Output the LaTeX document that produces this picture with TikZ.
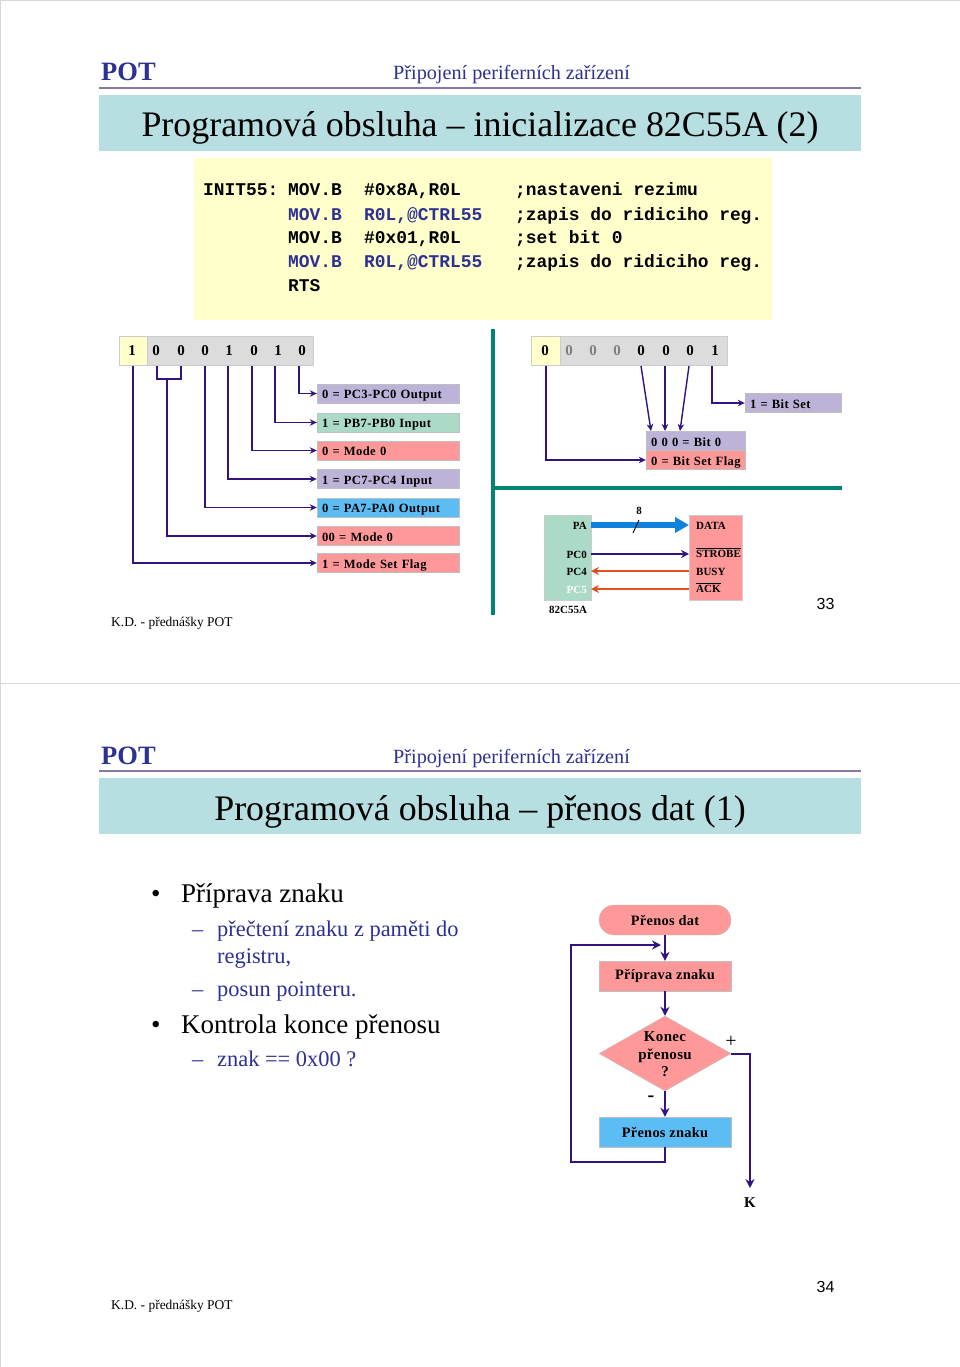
\documentclass[tikz,border=0pt]{standalone}
\usepackage{fontspec}
\setmainfont{Liberation Serif}
\setmonofont{Liberation Mono}
\newfontfamily\arialf{Liberation Sans}
\usetikzlibrary{arrows.meta,shapes.geometric,calc}
\definecolor{band}{HTML}{B7DEE1}
\definecolor{pale}{HTML}{FFFFCC}
\definecolor{cellgrey}{HTML}{DCDCDC}
\definecolor{lilac}{HTML}{BDB3D9}
\definecolor{mint}{HTML}{ABDAC6}
\definecolor{salmon}{HTML}{FF9999}
\definecolor{sky}{HTML}{5CBDF5}
\definecolor{teal2}{HTML}{008478}
\definecolor{wire}{HTML}{33137F}
\definecolor{fire}{HTML}{E0501E}
\definecolor{busb}{HTML}{0F82DC}
\definecolor{navy}{HTML}{2E3192}
\definecolor{rulec}{HTML}{8878A8}
\definecolor{frame}{HTML}{D8D8D8}
\newcommand{\ovl}[1]{\leavevmode\vbox{\hrule height 0.8pt\kern 1.6pt\hbox{#1}}}
\tikzset{
  txt/.style={inner sep=0pt,anchor=base west},
  lab/.style={draw=gray!50,line width=.4pt,fill=#1,minimum width=142pt,text width=132pt,inner xsep=5pt,inner ysep=0pt,minimum height=19pt,text height=10.3pt,text depth=0pt,align=left,font=\bfseries\fontsize{12.6}{14}\selectfont\addfontfeature{LetterSpace=3}},
  conn/.style={draw=wire,line width=1.4pt,-{Stealth[length=7pt,width=6.5pt]}},
  plain/.style={draw=wire,line width=1.4pt},
  bit/.style={inner sep=0pt,font=\bfseries\fontsize{15}{16}\selectfont},
  code/.style={txt,font=\ttfamily\bfseries\fontsize{17.9}{20}\selectfont},
  fl/.style={draw=gray!50,line width=.4pt,fill=#1,minimum width=132pt,inner sep=0pt,font=\bfseries\fontsize{14.4}{18}\selectfont\addfontfeature{LetterSpace=2}},
  fconn/.style={draw=wire,line width=2pt,-{Stealth[length=9pt,width=9pt]}},
  fplain/.style={draw=wire,line width=2pt},
  pot/.style={txt,text=navy,font=\bfseries\fontsize{26.5}{28}\selectfont},
  sub/.style={txt,text=navy,font=\fontsize{20.2}{22}\selectfont},
  ttl/.style={inner sep=0pt,anchor=base,font=\fontsize{35.9}{38}\selectfont},
  foot/.style={txt,font=\fontsize{13.45}{16}\selectfont},
  pnum/.style={inner sep=0pt,font=\arialf\fontsize{16}{18}\selectfont},
  big/.style={txt,font=\fontsize{27}{30}\selectfont},
  small/.style={txt,text=navy,font=\fontsize{22.4}{25}\selectfont},
  pin/.style={inner sep=0pt,font=\bfseries\fontsize{11}{13}\selectfont},
  pinl/.style={pin,anchor=base east},
  pinr/.style={pin,anchor=base west},
  cellbox/.style={draw=gray!40,line width=.4pt,fill=#1,minimum height=29pt,inner sep=0pt},
}
\begin{document}
\begin{tikzpicture}[x=1pt,y=-1pt]
\useasboundingbox (0,0) rectangle (960,1367);
\fill[white] (0,0) rectangle (960,1367);
\node[draw=frame,line width=.8pt,minimum width=960pt,minimum height=683pt,inner sep=0pt] (s1) at (480,341.5) {};
\node[draw=frame,line width=.8pt,minimum width=960pt,minimum height=684pt,inner sep=0pt] (s2) at (480,1025) {};
% ---------- slide 1 header
\node[pot] (pot1) at (101,81) {POT};
\node[sub] (sub1) at (393,80) {Připojení periferních zařízení};
\fill[rulec] (99,87) rectangle (861,89);
\node[fill=band,minimum width=762pt,minimum height=56pt,inner sep=0pt] (band1) at (480,123) {};
\node[ttl] (t1) at (480,137) {Programová obsluha – inicializace 82C55A (2)};
% code
\node[fill=pale,minimum width=578pt,minimum height=162pt,inner sep=0pt] (yb) at (483,239) {};
\node[code] (c0) at (203,196) {INIT55:};
\node[code] (c1) at (288,196) {MOV.B};
\node[code] (a1) at (364,196) {\#0x8A,R0L};
\node[code] (d1) at (515,196) {;nastaveni rezimu};
\node[code,text=navy] (c2) at (288,220) {MOV.B};
\node[code,text=navy] (a2) at (364,220) {R0L,@CTRL55};
\node[code] (d2) at (515,220) {;zapis do ridiciho reg.};
\node[code] (c3) at (288,243) {MOV.B};
\node[code] (a3) at (364,243) {\#0x01,R0L};
\node[code] (d3) at (515,243) {;set bit 0};
\node[code,text=navy] (c4) at (288,267) {MOV.B};
\node[code,text=navy] (a4) at (364,267) {R0L,@CTRL55};
\node[code] (d4) at (515,267) {;zapis do ridiciho reg.};
\node[code] (c5) at (288,291) {RTS};
% left register
\node[cellbox=cellgrey,minimum width=166pt] (regL) at (230,351) {};
\node[cellbox=pale,minimum width=28pt] (capL) at (133,351) {};
\foreach \n/\x/\v in {0/132/1,1/156/0,2/181/0,3/205/0,4/229/1,5/254/0,6/278/1,7/302/0}
  \node[bit] (lb\n) at (\x,351) {\v};
% labels
\node[lab=lilac] (l0) at (388,393.5) {0 = PC3-PC0 Output};
\node[lab=mint] (l1) at (388,422.5) {1 = PB7-PB0 Input};
\node[lab=salmon] (l2) at (388,450.5) {0 = Mode 0};
\node[lab=lilac] (l3) at (388,479) {1 = PC7-PC4 Input};
\node[lab=sky] (l4) at (388,507.5) {0 = PA7-PA0 Output};
\node[lab=salmon] (l5) at (388,536) {00 = Mode 0};
\node[lab=salmon] (l6) at (388,563) {1 = Mode Set Flag};
\coordinate (s0) at (299,366);
\coordinate (s1c) at (275,366);
\coordinate (s2c) at (252,366);
\coordinate (s3c) at (228,366);
\coordinate (s4c) at (205,366);
\coordinate (bA) at (157,366);
\coordinate (bB) at (181,366);
\coordinate (bC) at (157,379);
\coordinate (bD) at (181,379);
\coordinate (bJ) at (167,379);
\coordinate (s6c) at (133,366);
\draw[conn] (s0) |- (l0.west);
\draw[conn] (s1c) |- (l1.west);
\draw[conn] (s2c) |- (l2.west);
\draw[conn] (s3c) |- (l3.west);
\draw[conn] (s4c) |- (l4.west);
\draw[plain] (bA) -- (bC) -- (bD) -- (bB);
\draw[conn] (bJ) |- (l5.west);
\draw[conn] (s6c) |- (l6.west);
% teal dividers
\fill[teal2] (491,329) rectangle (495,615);
\fill[teal2] (491,486) rectangle (842,490);
% right register
\node[cellbox=cellgrey,minimum width=167pt] (regR) at (643.5,351) {};
\node[cellbox=pale,minimum width=29pt] (capR) at (545.5,351) {};
\foreach \n/\x/\v/\c in {0/545/0/black,1/569/0/gray,2/593/0/gray,3/617/0/gray,4/641/0/black,5/666/0/black,6/690/0/black,7/715/1/black}
  \node[bit,text=\c] (rb\n) at (\x,351) {\v};
\node[lab=lilac,minimum width=96pt,text width=86pt] (r1) at (793,403) {\mbox{1 = Bit Set}};
\node[lab=lilac,minimum width=99pt,text width=89pt] (r2) at (695.5,441) {\mbox{0 0 0 = Bit 0}};
\node[lab=salmon,minimum width=99pt,text width=89pt] (r3) at (695.5,460) {\mbox{0 = Bit Set Flag}};
\coordinate (t0) at (546,366);
\coordinate (t1c) at (641,366);
\coordinate (t2c) at (665,366);
\coordinate (t3c) at (689,366);
\coordinate (t4c) at (712,366);
\coordinate (e1) at (651,431);
\coordinate (e2) at (665,431);
\coordinate (e3) at (680,431);
\draw[conn] (t0) |- (r3.west);
\draw[conn] (t1c) -- (e1);
\draw[conn] (t2c) -- (e2);
\draw[conn] (t3c) -- (e3);
\draw[conn] (t4c) |- (r1.west);
% port diagram
\node[draw=gray!40,line width=.4pt,fill=mint,minimum width=47pt,minimum height=85pt,inner sep=0pt] (pp) at (567.5,557.5) {};
\node[draw=gray!40,line width=.4pt,fill=salmon,minimum width=53pt,minimum height=85pt,inner sep=0pt] (pr) at (715.5,557.5) {};
\node[pinl] (pa) at (587,529) {PA};
\node[pinl] (pc0) at (587,558) {PC0};
\node[pinl] (pc4) at (587,575.5) {PC4};
\node[pinl,text=white] (pc5) at (587,593) {PC5};
\node[pinr] (data) at (696,529) {DATA};
\node[pinr] (stb) at (696,557.5) {\ovl{STROBE}};
\node[pinr] (busy) at (696,575.5) {BUSY};
\node[pinr] (ack) at (696,592.5) {\ovl{ACK}};
\node[pin] (chip) at (568,610) {82C55A};
\node[pin] (eight) at (639,511) {8};
\coordinate (paR) at (591,525);
\coordinate (dataL) at (689,525);
\coordinate (pc0R) at (591,554);
\coordinate (stbL) at (689,554);
\coordinate (pc4R) at (591,571);
\coordinate (busyL) at (689,571);
\coordinate (pc5R) at (591,589);
\coordinate (ackL) at (689,589);
\draw[draw=busb,line width=5.5pt,-{Triangle[length=14pt,width=15pt]}] (paR) -- (dataL);
\draw[draw=wire,line width=1.6pt,-{Stealth[length=8pt,width=8pt]}] (pc0R) -- (stbL);
\draw[draw=fire,line width=1.6pt,-{Stealth[length=8pt,width=8pt]}] (busyL) -- (pc4R);
\draw[draw=fire,line width=1.6pt,-{Stealth[length=8pt,width=8pt]}] (ackL) -- (pc5R);
\coordinate (sl1) at (633,533);
\coordinate (sl2) at (639,520);
\draw[black,line width=.9pt] (sl1) -- (sl2);
\node[foot] (kd1) at (111,626) {K.D. - přednášky POT};
\node[pnum] (n33) at (825.5,604) {33};
% ---------- slide 2 header
\node[pot] (pot2) at (101,764) {POT};
\node[sub] (sub2) at (393,763) {Připojení periferních zařízení};
\fill[rulec] (99,770) rectangle (861,772);
\node[fill=band,minimum width=762pt,minimum height=56pt,inner sep=0pt] (band2) at (480,806) {};
\node[ttl] (t2) at (480,820) {Programová obsluha – přenos dat (1)};
% bullets
\node[big] (bu1) at (151,902) {•};
\node[big] (x1) at (181,902) {Příprava znaku};
\node[small] (da1) at (192,936) {–};
\node[small] (x2) at (217,936) {přečtení znaku z paměti do};
\node[small] (x3) at (217,963) {registru,};
\node[small] (da2) at (192,996) {–};
\node[small] (x4) at (217,996) {posun pointeru.};
\node[big] (bu2) at (151,1033) {•};
\node[big] (x5) at (181,1033) {Kontrola konce přenosu};
\node[small] (da3) at (192,1066) {–};
\node[small] (x6) at (217,1066) {znak == 0x00 ?};
% flow chart
\node[fl=salmon,minimum height=30pt,rounded corners=15pt] (f1) at (665,920) {Přenos dat};
\node[fl=salmon,minimum height=30pt] (f2) at (665,976) {Příprava znaku};
\node[diamond,draw=gray!50,line width=.4pt,fill=salmon,minimum width=132pt,minimum height=75pt,inner sep=0pt,aspect=1.76] (f3) at (665,1053.5) {};
\node[align=center,inner sep=0pt,font=\bfseries\fontsize{15}{17.5}\selectfont\addfontfeature{LetterSpace=2}] (f3t) at (665,1054.5) {Konec\\přenosu\\?};
\node[fl=sky,minimum height=30pt] (f4) at (665,1132) {Přenos znaku};
\node[inner sep=0pt,font=\bfseries\fontsize{15}{17}\selectfont] (kk) at (750,1203) {K};
\node[inner sep=0pt,font=\fontsize{20}{20}\selectfont] (plus) at (731,1042) {+};
\node[inner sep=0pt,font=\bfseries\fontsize{20}{20}\selectfont] (minus) at (651,1099) {-};
\coordinate (ret) at (661,945);
\coordinate (kend) at (750,1188);
\coordinate (loopA) at (665,1162);
\coordinate (loopB) at (571,1162);
\coordinate (loopC) at (571,945);
\draw[fconn] (f1.south) -- (f2.north);
\draw[fconn] (f2.south) -- (f3.north);
\draw[fconn] (f3.south) -- (f4.north);
\draw[fconn] (f4.south) -- (loopA) -- (loopB) -- (loopC) -- (ret);
\draw[fconn] (f3.east) -| (kend);
\node[pnum] (n34) at (825.5,1287) {34};
\node[foot] (kd2) at (111,1309) {K.D. - přednášky POT};
\end{tikzpicture}
\end{document}
